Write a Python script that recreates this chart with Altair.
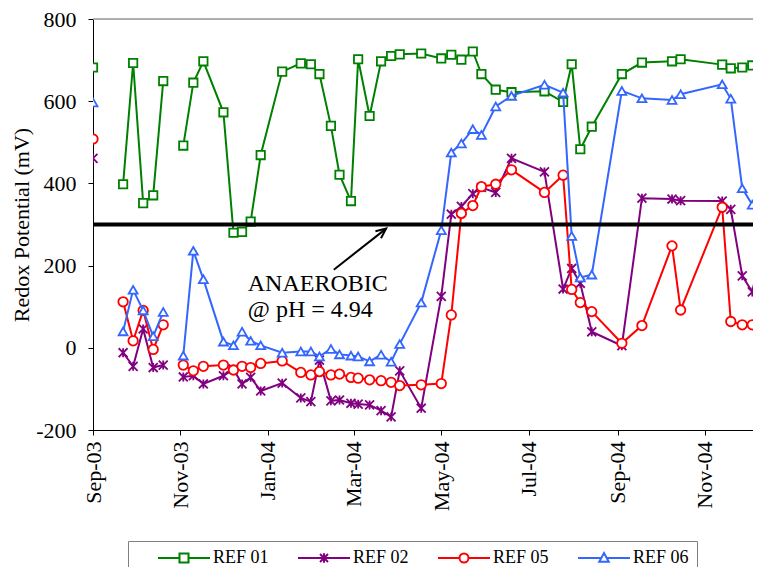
import altair as alt
import pandas as pd

# ---- data (None = break in the plotted line) ----
dates = ["2003-09-01", None,
         "2003-09-22", "2003-09-29", "2003-10-06", "2003-10-13", "2003-10-20", None,
         "2003-11-03", "2003-11-10", "2003-11-17", "2003-12-01", "2003-12-08", "2003-12-14",
         "2003-12-20", "2003-12-27", "2004-01-11", "2004-01-24", "2004-01-31", "2004-02-06",
         "2004-02-14", "2004-02-20", "2004-02-28", "2004-03-04", "2004-03-12", "2004-03-20",
         "2004-03-27", "2004-04-02", "2004-04-17", "2004-05-01", "2004-05-08", "2004-05-15",
         "2004-05-23", "2004-05-29", "2004-06-08", "2004-06-19", "2004-07-12", "2004-07-25",
         "2004-07-31", "2004-08-06", "2004-08-14", "2004-09-04", "2004-09-18", "2004-10-09",
         "2004-10-15", "2004-11-13", "2004-11-19", "2004-11-27", "2004-12-04", "2004-12-11"]

ref01 = [682, None,
         398, 693, 352, 371, 649, None,
         492, 645, 697, 573, 280, 282, 307, 469, 672, 692, 690, 666, 540, 421, 357, 702,
         564, 697, 710, 714, 716, 704, 713, 701, 721, 666, 628, 622, 624, 598, 690, 483,
         538, 666, 694, 697, 702, 689, 680, 682, 687, 689]
ref02 = [461, None,
         -12, -45, 46, -48, -42, None,
         -71, -68, -88, -68, -52, -88, -72, -105, -86, -122, -131, -30, -129, -127, -135, -137,
         -139, -153, -168, -56, -147, 125, 325, 344, 375, 390, 378, 461, 428, 143, 193, 157,
         39, 5, 364, 362, 358, 357, 337, 175, 136, 250]
ref05 = [508, None,
         112, 17, 91, -4, 56, None,
         -42, -56, -45, -42, -54, -45, -48, -38, -32, -60, -66, -58, -66, -64, -72, -74,
         -78, -80, -84, -92, -90, -87, 80, 327, 346, 392, 398, 433, 378, 420, 142, 110,
         88, 11, 54, 248, 92, 342, 64, 56, 56, 45]
ref06 = [597, None,
         40, 141, 91, 28, 87, None,
         -19, 236, 167, 15, 6, 39, 17, 6, -12, -9, -9, -21, -3, -16, -19, -21,
         -33, -17, -34, 9, 110, 286, 475, 497, 532, 518, 587, 613, 640, 621, 272, 171,
         178, 625, 607, 603, 617, 641, 606, 388, 348, 410]

series_names = ["REF 01", "REF 02", "REF 05", "REF 06"]
series_values = [ref01, ref02, ref05, ref06]
series_colors = ["#008000", "#800080", "#FF0000", "#3366FF"]

threshold = [300]
frame_top = [800]
note_lines = ["ANAEROBIC", "@ pH = 4.94"]
note_date = ["2003-12-18", "2003-12-18"]
note_value = [138, 76]
arrow_from = ("2004-02-16", 190)
arrow_to = ("2004-03-23T12:00:00", 290)

# ---- build table ----
rows = []
seg = 0
for i, d in enumerate(dates):
    if d is None:
        seg += 1
        continue
    for name, vals in zip(series_names, series_values):
        rows.append({"date": d, "value": vals[i], "series": name, "seg": f"{name}-{seg}"})
df = pd.DataFrame(rows)

FONT = "Liberation Serif"

x_start = alt.DateTime(year=2003, month=9, date=1, utc=True)
x_end = alt.DateTime(year=2004, month=12, date=4, hours=12, utc=True)
tick_vals = [alt.DateTime(year=y, month=m, date=1, utc=True)
             for (y, m) in [(2003, 9), (2003, 11), (2004, 1), (2004, 3), (2004, 5),
                            (2004, 7), (2004, 9), (2004, 11)]]

x_enc = alt.X("date:T", title=None,
              scale=alt.Scale(type="utc", domain=[x_start, x_end]),
              axis=alt.Axis(values=tick_vals,
                            labelExpr="utcFormat(datum.value, '%b-%y')",
                            labelAngle=270, labelFont=FONT, labelFontSize=22,
                            labelColor="black", labelPadding=6, tickSize=5,
                            tickColor="black", domainColor="black", grid=False))
y_enc = alt.Y("value:Q", title="Redox Potential (mV)",
              scale=alt.Scale(domain=[-200, 800], nice=False, zero=False),
              axis=alt.Axis(values=[-200, 0, 200, 400, 600, 800],
                            labelExpr="datum.value + ''", labelFont=FONT,
                            labelFontSize=22, labelColor="black", labelPadding=12,
                            tickSize=5, tickColor="black", domainColor="black",
                            grid=False, titleFont=FONT, titleFontSize=22,
                            titleFontWeight="normal", titleColor="black",
                            titlePadding=2))

marker_shapes = ["square", "M-1,-1L1,1M-1,1L1,-1M0,-1V1", "circle", "triangle-up"]
legend_paths = [
    "M-5.2,0H-0.9M0.9,0H5.2M-0.9,-0.9H0.9V0.9H-0.9Z",
    "M-5.2,0H5.2M-0.8,-0.8L0.8,0.8M-0.8,0.8L0.8,-0.8M0,-0.95V0.95",
    "M-5.2,0H-0.9M0.9,0H5.2M0.9,0A0.9,0.9,0,1,1,-0.9,0A0.9,0.9,0,1,1,0.9,0Z",
    "M-5.2,0H-0.55M0.55,0H5.2M0,-1L0.95,0.75H-0.95Z",
]
marker_sizes = [70, 80, 90, 80]

base = alt.Chart(df)
layers = []
for name, col, shp, sz in zip(series_names, series_colors, marker_shapes, marker_sizes):
    sub = base.transform_filter(alt.datum.series == name)
    layers.append(sub.mark_line(strokeWidth=2, clip=True, color=col).encode(
        x=x_enc, y=y_enc, detail="seg:N"))
    layers.append(sub.mark_point(shape=shp, size=sz, filled=False, fill="white",
                                 stroke=col, opacity=1, strokeWidth=1.8,
                                 clip=True).encode(x=x_enc, y=y_enc))

# legend-only layer: points placed below the y-domain and clipped away
legend_df = pd.DataFrame({"date": [dates[0]] * 4, "value": [-1000] * 4,
                          "series": series_names})
legend_def = alt.Legend(orient="none", legendX=35, legendY=522, direction="horizontal",
                        title=None, labelFont=FONT, labelFontSize=18, labelColor="black",
                        symbolSize=100, symbolStrokeWidth=2, symbolOpacity=1,
                        symbolOffset=39, labelOffset=20, columnPadding=7, padding=8,
                        strokeColor="#808080", fillColor="white", labelLimit=500,
                        labelExpr="datum.label == 'REF 06' ? pad(datum.label, 34) : datum.label")
legend_layer = alt.Chart(legend_df).mark_point(size=100, filled=False, clip=True).encode(
    x=x_enc, y=y_enc,
    color=alt.Color("series:N", scale=alt.Scale(domain=series_names, range=series_colors),
                    legend=legend_def),
    shape=alt.Shape("series:N", scale=alt.Scale(domain=series_names, range=legend_paths),
                    legend=legend_def))
layers.append(legend_layer)

top_line = alt.Chart(pd.DataFrame({"y": frame_top})).mark_rule(
    color="#9a9a9a", strokeWidth=1.5).encode(y="y:Q")
rule = alt.Chart(pd.DataFrame({"y": threshold})).mark_rule(
    color="black", strokeWidth=4).encode(y="y:Q")

arrow_df = pd.DataFrame({"x": [arrow_from[0]], "y": [arrow_from[1]],
                         "x2": [arrow_to[0]], "y2": [arrow_to[1]]})
arrow_line = alt.Chart(arrow_df).mark_rule(color="black", strokeWidth=2).encode(
    x="x:T", y="y:Q", x2="x2:T", y2="y2:Q")
arrow_head = alt.Chart(arrow_df).mark_point(
    shape="M-0.45,1L0,0L0.45,1", size=400, angle=52, filled=False, opacity=1,
    color="black", strokeWidth=2).encode(x="x2:T", y="y2:Q")

note_df = pd.DataFrame({"d": note_date, "v": note_value, "t": note_lines})
note = alt.Chart(note_df).mark_text(align="left", baseline="alphabetic", font=FONT,
                                    fontSize=24, color="black").encode(
    x="d:T", y="v:Q", text="t:N")

chart = alt.layer(top_line, *layers, rule, arrow_line, arrow_head, note).properties(
    width=660, height=411,
    autosize=alt.AutoSizeParams(type="none"),
    padding={"left": 85, "top": 11, "right": 0, "bottom": 137},
).configure_view(stroke=None).configure(background="white")

chart.save("out.html", embed_options={"renderer": "svg", "actions": False})
